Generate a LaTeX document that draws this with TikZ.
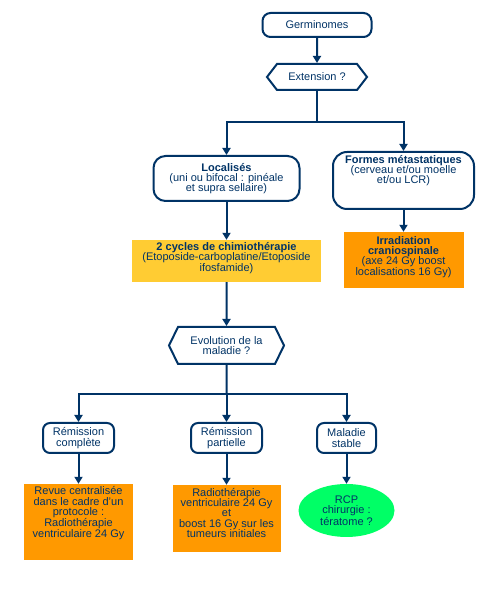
\documentclass[tikz,border=0pt]{standalone}
\usepackage{fontspec}
\setmainfont{Liberation Sans}
\usetikzlibrary{arrows.meta,shapes.geometric,shapes.symbols}
\definecolor{bleufonce}{HTML}{003366}
\definecolor{jaune}{HTML}{FFCC33}
\definecolor{orange}{HTML}{FF9900}
\definecolor{vert}{HTML}{00FF66}

\begin{document}
\begin{tikzpicture}[x=1pt,y=1pt]
        % Définition des styles
        \tikzset{
            base/.style={align=center, text=bleufonce, inner sep=2pt,
                         font=\fontsize{11}{10.3}\selectfont},
            etape/.style={base, rectangle, draw=bleufonce, line width=2pt,
                         rounded corners=8pt, fill=white},
            question/.style={base, signal, signal to=east and west,
                         draw=bleufonce, line width=2pt, fill=white},
            traitement/.style={base, rectangle, fill=orange},
            fleche/.style={-{Triangle[width=8pt,length=7pt]}, line width=2pt, draw=bleufonce},
            trait/.style={line width=2pt, draw=bleufonce}
        }
        \useasboundingbox (0,0) rectangle (500,600);

        % Diagramme
        \node[etape, minimum width=109pt, minimum height=24pt] (germ) at (317,575) {Germinomes};
        \node[question, minimum width=100pt, minimum height=26pt, signal pointer angle=105] (ext) at (317,523) {Extension ?};
        \coordinate (br1) at (317,478);
        \node[etape, rounded corners=12pt, minimum width=146pt, minimum height=45pt] (loc) at (226.5,421.5)
            {\textbf{Localisés}\\(uni ou bifocal : pinéale\\et supra sellaire)};
        \node[etape, rounded corners=14pt, minimum width=141pt, minimum height=57pt] (meta) at (403.5,419.5)
            {\textbf{Formes métastatiques}\\(cerveau et/ou moelle\\et/ou LCR)\\[12pt]\mbox{}};
        \node[base, fill=jaune, minimum width=189pt, minimum height=42pt] (chimio) at (226.5,339)
            {\textbf{2 cycles de chimiothérapie}\\(Etoposide-carboplatine/Etoposide\\ifosfamide)\\[-2pt]\mbox{}};
        \node[traitement, minimum width=120pt, minimum height=56pt] (irr) at (403.5,340)
            {\textbf{Irradiation}\\\textbf{craniospinale}\\(axe 24 Gy boost\\localisations 16 Gy)\\[-2pt]\mbox{}};
        \node[question, minimum width=115pt, minimum height=37pt, signal pointer angle=128] (evol) at (226.5,254.5)
            {Evolution de la\\maladie ?};
        \coordinate (br2) at (226.5,206);
        \node[etape, rounded corners=7pt, minimum width=71pt, minimum height=30pt] (remc) at (78.5,162) {Rémission\\complète};
        \node[etape, rounded corners=7pt, minimum width=71pt, minimum height=30pt] (remp) at (226.5,162) {Rémission\\partielle};
        \node[etape, rounded corners=7pt, minimum width=59pt, minimum height=30pt] (stab) at (346.5,162) {Maladie\\stable};
        \node[traitement, minimum width=109pt, minimum height=76pt] (revue) at (78.5,78)
            {Revue centralisée\\dans le cadre d'un\\protocole :\\Radiothérapie\\ventriculaire 24 Gy\\[10pt]\mbox{}};
        \node[traitement, minimum width=108pt, minimum height=67pt] (radio) at (226.5,81.5)
            {Radiothérapie\\ventriculaire 24 Gy\\et\\boost 16 Gy sur les\\tumeurs initiales\\[1pt]\mbox{}};
        \node[base, ellipse, fill=vert, minimum width=96pt, minimum height=53pt, inner sep=0pt] (rcp) at (346.5,89.5)
            {RCP\\chirurgie :\\tératome ?};

        % Connexions
        \draw[fleche] (germ) -- (ext);
        \draw[trait] (ext) -- (br1);
        \draw[fleche] (br1) -| (loc);
        \draw[fleche] (br1) -| (meta);
        \draw[fleche] (loc) -- (chimio);
        \draw[fleche] (meta) -- (irr);
        \draw[fleche] (chimio) -- (evol);
        \draw[trait] (evol) -- (br2);
        \draw[fleche] (br2) -| (remc);
        \draw[fleche] (br2) -- (remp);
        \draw[fleche] (br2) -| (stab);
        \draw[fleche] (remc) -- (revue);
        \draw[fleche] (remp) -- (radio);
        \draw[fleche] (stab) -- (rcp);
    \end{tikzpicture}
\end{document}
